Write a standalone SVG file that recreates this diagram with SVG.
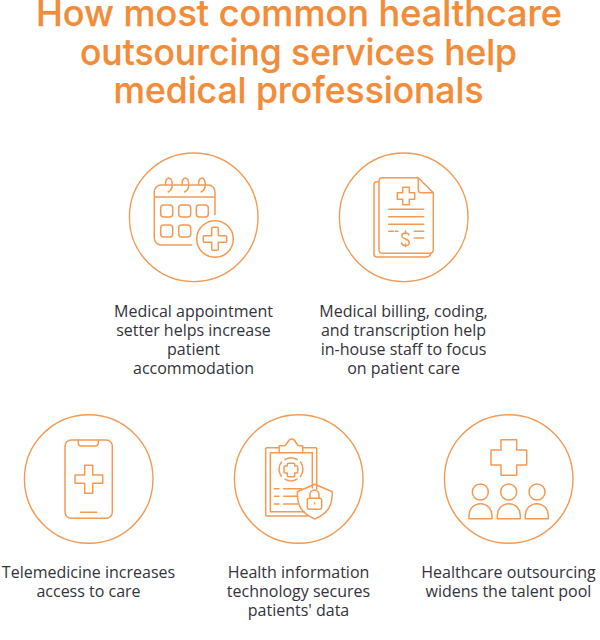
<svg xmlns="http://www.w3.org/2000/svg" width="600" height="640" viewBox="0 0 600 640">
<style>
.t{font-family:"Inter","Noto Sans",sans-serif;font-size:36px;font-weight:500;fill:#f28c38;stroke:#f28c38;stroke-width:.25;text-anchor:middle}
.b{font-family:"Open Sans","Noto Sans",sans-serif;font-size:16px;fill:#33333b;text-anchor:middle}
.c{fill:none;stroke:#f39a55;stroke-width:1.4}
.i{fill:none;stroke:#f39a55;stroke-width:1.5;stroke-linecap:round;stroke-linejoin:round}
</style>
<rect width="600" height="640" fill="#fff"/>
<g id="title"><text class="t" x="299" y="26" textLength="526" lengthAdjust="spacingAndGlyphs">How most common healthcare</text><text class="t" x="298.500" y="64.500" textLength="437" lengthAdjust="spacingAndGlyphs">outsourcing services help</text><text class="t" x="298.500" y="102.500" textLength="370" lengthAdjust="spacingAndGlyphs">medical professionals</text></g>
<g id="node-appointment">
<circle class="c" cx="193.700" cy="217.300" r="64.300"/>
<path class="i" d="M215 214.500V192a7 7 0 0 0-7-7H161.300a7 7 0 0 0-7 7V238a7 7 0 0 0 7 7H191.700M154.300 197H215"/>
<path class="i" d="M165.700 185c-.5-3 .5-7 3-7s3.500 4 3.500 7c0 3-2 6-4 7M182.200 185c-.5-3 .5-7 3-7s3.500 4 3.500 7c0 3-2 6-4 7M198.700 185c-.5-3 .5-7 3-7s3.500 4 3.500 7c0 3-2 6-4 7"/>
<rect class="i" x="160.700" y="205" width="12" height="12" rx="3"/><rect class="i" x="178.700" y="205" width="12" height="12" rx="3"/><rect class="i" x="196.300" y="205" width="12" height="12" rx="3"/><rect class="i" x="160.700" y="225" width="12" height="12" rx="3"/><rect class="i" x="178.700" y="225" width="12" height="12" rx="3"/>
<circle class="i" cx="215" cy="239" r="18.300"/>
<path class="i" d="M212.700 227.300h4.600a1 1 0 0 1 1 1v7.400h7.400a1 1 0 0 1 1 1v4.600a1 1 0 0 1-1 1h-7.400v7a1 1 0 0 1-1 1h-4.600a1 1 0 0 1-1-1v-7h-7.400a1 1 0 0 1-1-1v-4.600a1 1 0 0 1 1-1h7.400v-7.400a1 1 0 0 1 1-1z"/>
<text class="b" x="193.500" y="316.500">Medical appointment</text><text class="b" x="193.500" y="335.700">setter helps increase</text><text class="b" x="193.500" y="354.900">patient</text><text class="b" x="193.500" y="374">accommodation</text>
</g>
<g id="node-billing">
<circle class="c" cx="403.700" cy="217.300" r="64.300"/>
<path class="i" d="M378 181.700h-1a3 3 0 0 0-3 3V254a3 3 0 0 0 3 3H426a5 5 0 0 0 5-4"/>
<path class="i" d="M379 181a3.500 3.500 0 0 1 3.500-3.300H418.300L433.300 192.700V250a3.500 3.500 0 0 1-3.500 3.300H382.500a3.500 3.500 0 0 1-3.500-3.300zM418.300 177.700V190a2.700 2.700 0 0 0 2.700 2.700H433.300"/>
<path class="i" d="M402.700 187.300h6.600v5.400h5.400v6.600h-5.400v5.400h-6.600v-5.400h-5.400v-6.600h5.400z"/>
<path class="i" d="M388.700 209.300H423.700M388.700 216.700H423.700M388.700 224.300H423.700M388.700 231.300h4.600M395.300 231.300h2.700M414.300 231.300h9.400M414.300 238h9.400"/>
<path class="i" d="M409 235c-.5-2.500-6.800-2.800-7.200 .6s7.500 3 7.500 7-7 4-7.700 .4M405.500 231v2.500M405.500 244v2.500"/>
<text class="b" x="403.500" y="316.500">Medical billing, coding,</text><text class="b" x="403.500" y="335.700">and transcription help</text><text class="b" x="403.500" y="354.900">in-house staff to focus</text><text class="b" x="403.500" y="374">on patient care</text>
</g>
<g id="node-telemedicine">
<circle class="c" cx="88.700" cy="479" r="64.300"/>
<rect class="i" x="65" y="440" width="47.300" height="78.300" rx="6"/>
<path class="i" d="M78.300 440v3a3 3 0 0 0 3 3h14a3 3 0 0 0 3-3v-3M80.700 512.300h16"/>
<path class="i" d="M84.700 465.300h8v9.700h10v8.300h-10v10h-8v-10h-9.700v-8.300h9.700z"/>
<text class="b" x="88.500" y="578">Telemedicine increases</text><text class="b" x="88.500" y="597">access to care</text>
</g>
<g id="node-security">
<circle class="c" cx="298.700" cy="479" r="64.300"/>
<path class="i" d="M279.300 447.700H266.700a1 1 0 0 0-1 1V515a1 1 0 0 0 1 1H308M316.700 489V448.700a1 1 0 0 0-1-1H302.700"/>
<path class="i" d="M279.300 452.700H270.300V511.700H304M312.300 488V452.700H302.700"/>
<path class="i" d="M279.300 452.700V445.700h5c3 0 3-6.700 7.400-6.700s4.400 6.700 7.400 6.700h3.600v7z"/>
<path class="i" d="M281.500 462a12 12 0 0 0 0 14.500M300.500 462a12 12 0 0 1 0 14.500M285 459.500a12 12 0 0 1 12 0M285 479.200a12 12 0 0 0 12 0"/>
<path class="i" d="M288.300 463.300h5.400a1 1 0 0 1 1 1v1.700h2a1 1 0 0 1 1 1v5a1 1 0 0 1-1 1h-2v2.700a1 1 0 0 1-1 1h-5.400a1 1 0 0 1-1-1V473h-2.300a1 1 0 0 1-1-1v-5a1 1 0 0 1 1-1h2.300v-1.700a1 1 0 0 1 1-1z"/>
<path class="i" d="M274.300 488.700h4.700M283.700 488.700h18M274.300 496.300h4.700M283.700 496.300h14M274.300 504h4.700M283.700 504h14"/>
<path class="i" d="M314.800 484.300l17.500 7.400c0 13-3 21-17.500 27.300-14.500-6.300-17.500-14.300-17.500-27.300z"/>
<rect class="i" x="307.300" y="498.300" width="14.400" height="11" rx="2"/>
<path class="i" d="M310 498v-3.500a4.500 4.500 0 0 1 9 0v3.500M314.600 503v1"/>
<text class="b" x="298.500" y="578">Health information</text><text class="b" x="298.500" y="597">technology secures</text><text class="b" x="298.500" y="616">patients' data</text>
</g>
<g id="node-talent">
<circle class="c" cx="508.700" cy="479" r="64.300"/>
<path class="i" d="M501 439.700h15.700V450H526.700v15H516.700v10.300H501V465H491V450h10z"/>
<circle class="i" cx="480.300" cy="492" r="8"/><circle class="i" cx="508.700" cy="492" r="8"/><circle class="i" cx="537" cy="492" r="8"/>
<path class="i" d="M469 518.700v-3.500a11.500 11.500 0 0 1 23 0v3.500zM497.300 518.700v-3.500a11.500 11.500 0 0 1 23 0v3.500zM525.300 518.700v-3.500a11.500 11.500 0 0 1 23 0v3.500z"/>
<text class="b" x="508.500" y="578">Healthcare outsourcing</text><text class="b" x="508.500" y="597">widens the talent pool</text>
</g>
</svg>
